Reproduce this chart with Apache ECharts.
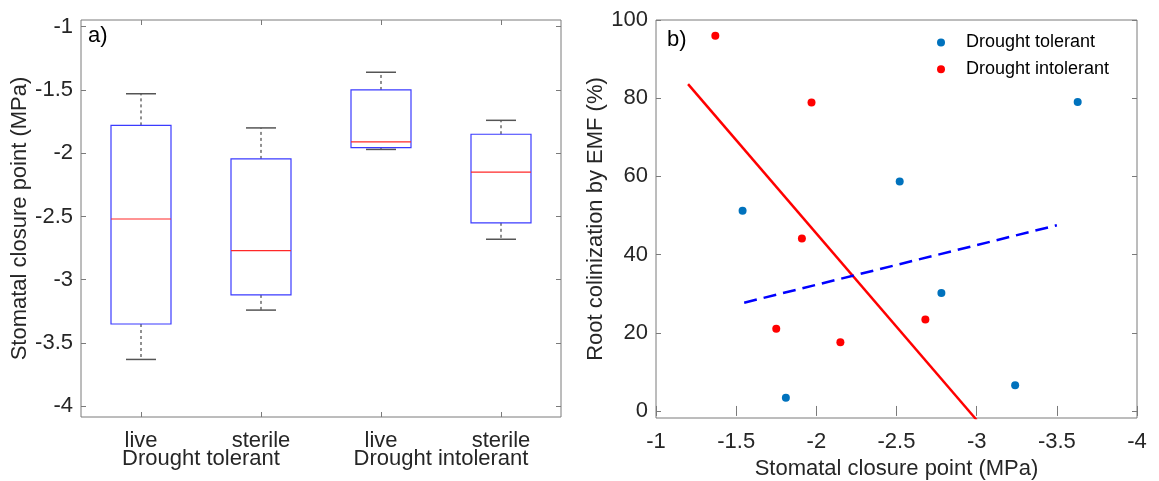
<!DOCTYPE html>
<html>
<head>
<meta charset="utf-8">
<script src="https://cdn.jsdelivr.net/npm/echarts@6/dist/echarts.min.js"></script>
<style>html,body{margin:0;padding:0;background:#fff;}#c{width:1159px;height:481px;}</style>
</head>
<body>
<div id="c"></div>
<script>
// ---- Panel a) boxplot data ----
var categories = ['live', 'sterile', 'live', 'sterile'];
var groups = ['Drought tolerant', 'Drought intolerant'];
var boxLow    = [-3.63, -3.24, -1.97, -2.68];
var boxQ1     = [-3.35, -3.12, -1.955, -2.55];
var boxMedian = [-2.52, -2.77, -1.91, -2.15];
var boxQ3     = [-1.78, -2.045, -1.50, -1.85];
var boxHigh   = [-1.53, -1.80, -1.36, -1.74];
var yTicksA = [-4, -3.5, -3, -2.5, -2, -1.5, -1];

// ---- Panel b) scatter data ----
var tolerantX = [-1.54, -1.81, -2.52, -2.78, -3.24, -3.63];
var tolerantY = [51.2, 3.4, 58.7, 30.2, 6.6, 79.0];
var intolerantX = [-1.37, -1.97, -1.91, -1.75, -2.15, -2.68];
var intolerantY = [96.0, 78.9, 44.1, 21.0, 17.6, 23.4];
var fitIntolerantX = [-1.2, -3.0];
var fitIntolerantY = [83.6, -2.3];
var fitTolerantX = [-1.55, -3.5];
var fitTolerantY = [27.7, 47.5];
var yTicksB = [0, 20, 40, 60, 80, 100];

function zip(a, b) { return a.map(function (v, i) { return [v, b[i]]; }); }

var FONT = "'Liberation Sans', Arial, sans-serif";
var TXT = '#262626';
var FRAME = '#7a7a7a';
var FS = 22;

var boxData = categories.map(function (c, i) {
  return [i, boxLow[i], boxQ1[i], boxMedian[i], boxQ3[i], boxHigh[i]];
});

function renderBox(params, api) {
  var idx = api.value(0);
  var bw = api.size([1, 0])[0];
  var half = bw * 0.25, cap = bw * 0.125;
  var pLow = api.coord([idx, api.value(1)]);
  var pQ1 = api.coord([idx, api.value(2)]);
  var pMed = api.coord([idx, api.value(3)]);
  var pQ3 = api.coord([idx, api.value(4)]);
  var pHigh = api.coord([idx, api.value(5)]);
  var cx = pMed[0];
  return {
    type: 'group',
    children: [
      { type: 'line', shape: { x1: cx, y1: pQ3[1], x2: cx, y2: pHigh[1] },
        style: { stroke: '#222', lineWidth: 1, lineDash: [3, 3] } },
      { type: 'line', shape: { x1: cx, y1: pQ1[1], x2: cx, y2: pLow[1] },
        style: { stroke: '#222', lineWidth: 1, lineDash: [3, 3] } },
      { type: 'line', shape: { x1: cx - cap, y1: pHigh[1], x2: cx + cap, y2: pHigh[1] },
        style: { stroke: '#555', lineWidth: 1.5 } },
      { type: 'line', shape: { x1: cx - cap, y1: pLow[1], x2: cx + cap, y2: pLow[1] },
        style: { stroke: '#555', lineWidth: 1.5 } },
      { type: 'rect', shape: { x: cx - half, y: pQ3[1], width: 2 * half, height: pQ1[1] - pQ3[1] },
        style: { fill: 'none', stroke: '#3b3bff', lineWidth: 1.2 } },
      { type: 'line', shape: { x1: cx - half, y1: pMed[1], x2: cx + half, y2: pMed[1] },
        style: { stroke: '#ff2828', lineWidth: 1.2 } }
    ]
  };
}

var tick = { show: true, inside: true, length: 5, lineStyle: { color: FRAME } };
var lbl = { color: TXT, fontSize: FS, fontFamily: FONT };

var option = {
  animation: false,
  backgroundColor: '#fff',
  textStyle: { fontFamily: FONT },
  title: [
    { text: 'a)', left: 88, top: 25, padding: 0, textStyle: { color: '#000', fontSize: FS, fontWeight: 'normal', fontFamily: FONT } },
    { text: 'b)', left: 667, top: 29, padding: 0, textStyle: { color: '#000', fontSize: FS, fontWeight: 'normal', fontFamily: FONT } }
  ],
  legend: {
    orient: 'vertical', left: 932, top: 27.5,
    icon: 'circle', itemWidth: 40, itemHeight: 8, itemGap: 6.7,
    textStyle: { color: '#000', fontSize: 18, fontFamily: FONT, lineHeight: 20 },
    data: ['Drought tolerant', 'Drought intolerant']
  },
  grid: [
    { left: 81, top: 20, width: 480, height: 397, show: true, borderColor: FRAME, borderWidth: 1,
      backgroundColor: '#fff', containLabel: false, outerBoundsMode: 'none' },
    { left: 656, top: 20, width: 481, height: 398, show: true, borderColor: FRAME, borderWidth: 1,
      backgroundColor: '#fff', containLabel: false, outerBoundsMode: 'none' }
  ],
  xAxis: [
    { type: 'category', gridIndex: 0, position: 'bottom', data: categories,
      axisLine: { show: false }, axisTick: Object.assign({ alignWithLabel: true }, tick),
      axisLabel: Object.assign({ margin: 13 }, lbl), splitLine: { show: false } },
    { type: 'category', gridIndex: 0, position: 'bottom', offset: 18, data: groups,
      axisLine: { show: false }, axisTick: { show: false },
      axisLabel: Object.assign({ margin: 13 }, lbl), splitLine: { show: false } },
    { type: 'category', gridIndex: 0, position: 'top', data: categories,
      axisLine: { show: false }, axisTick: Object.assign({ alignWithLabel: true }, tick),
      axisLabel: { show: false }, splitLine: { show: false } },
    { type: 'value', gridIndex: 1, position: 'bottom', min: -4, max: -1, interval: 0.5, inverse: true,
      name: 'Stomatal closure point (MPa)', nameLocation: 'middle', nameGap: 39,
      nameTextStyle: { color: TXT, fontSize: FS, fontFamily: FONT },
      axisLine: { show: false }, axisTick: tick,
      axisLabel: Object.assign({ margin: 13 }, lbl), splitLine: { show: false } },
    { type: 'value', gridIndex: 1, position: 'top', min: -4, max: -1, interval: 0.5, inverse: true,
      axisLine: { show: false }, axisTick: tick, axisLabel: { show: false }, splitLine: { show: false } }
  ],
  yAxis: [
    { type: 'value', gridIndex: 0, position: 'left', min: -4.085, max: -0.947,
      name: 'Stomatal closure point (MPa)', nameLocation: 'middle', nameGap: 50,
      nameTextStyle: { color: TXT, fontSize: FS, fontFamily: FONT },
      axisLine: { show: false },
      axisTick: Object.assign({ customValues: yTicksA }, tick),
      axisLabel: Object.assign({ margin: 8, customValues: yTicksA }, lbl),
      splitLine: { show: false } },
    { type: 'value', gridIndex: 0, position: 'right', min: -4.085, max: -0.947,
      axisLine: { show: false },
      axisTick: Object.assign({ customValues: yTicksA }, tick),
      axisLabel: { show: false }, splitLine: { show: false } },
    { type: 'value', gridIndex: 1, position: 'left', min: -1.8, max: 100,
      name: 'Root colinization by EMF (%)', nameLocation: 'middle', nameGap: 47,
      nameTextStyle: { color: TXT, fontSize: FS, fontFamily: FONT },
      axisLine: { show: false },
      axisTick: Object.assign({ customValues: yTicksB }, tick),
      axisLabel: Object.assign({ margin: 8, customValues: yTicksB }, lbl),
      splitLine: { show: false } },
    { type: 'value', gridIndex: 1, position: 'right', min: -1.8, max: 100,
      axisLine: { show: false },
      axisTick: Object.assign({ customValues: yTicksB }, tick),
      axisLabel: { show: false }, splitLine: { show: false } }
  ],
  series: [
    { type: 'custom', xAxisIndex: 0, yAxisIndex: 0, renderItem: renderBox,
      encode: { x: 0, y: [1, 2, 3, 4, 5] }, data: boxData, silent: true },
    { name: 'fitIntolerant', type: 'line', xAxisIndex: 3, yAxisIndex: 2,
      data: zip(fitIntolerantX, fitIntolerantY), symbol: 'none', clip: true,
      lineStyle: { color: '#ff0000', width: 2.5 }, silent: true },
    { name: 'fitTolerant', type: 'line', xAxisIndex: 3, yAxisIndex: 2,
      data: zip(fitTolerantX, fitTolerantY), symbol: 'none', clip: true,
      lineStyle: { color: '#0000ff', width: 2.5, type: [13, 7] }, silent: true },
    { name: 'Drought tolerant', type: 'scatter', xAxisIndex: 3, yAxisIndex: 2,
      data: zip(tolerantX, tolerantY), symbol: 'circle', symbolSize: 8,
      itemStyle: { color: '#0072BD', opacity: 1 } },
    { name: 'Drought intolerant', type: 'scatter', xAxisIndex: 3, yAxisIndex: 2,
      data: zip(intolerantX, intolerantY), symbol: 'circle', symbolSize: 8,
      itemStyle: { color: '#ff0000', opacity: 1 } }
  ]
};

var chart = echarts.init(document.getElementById('c'), null, { renderer: 'canvas' });
chart.setOption(option);
</script>
</body>
</html>
